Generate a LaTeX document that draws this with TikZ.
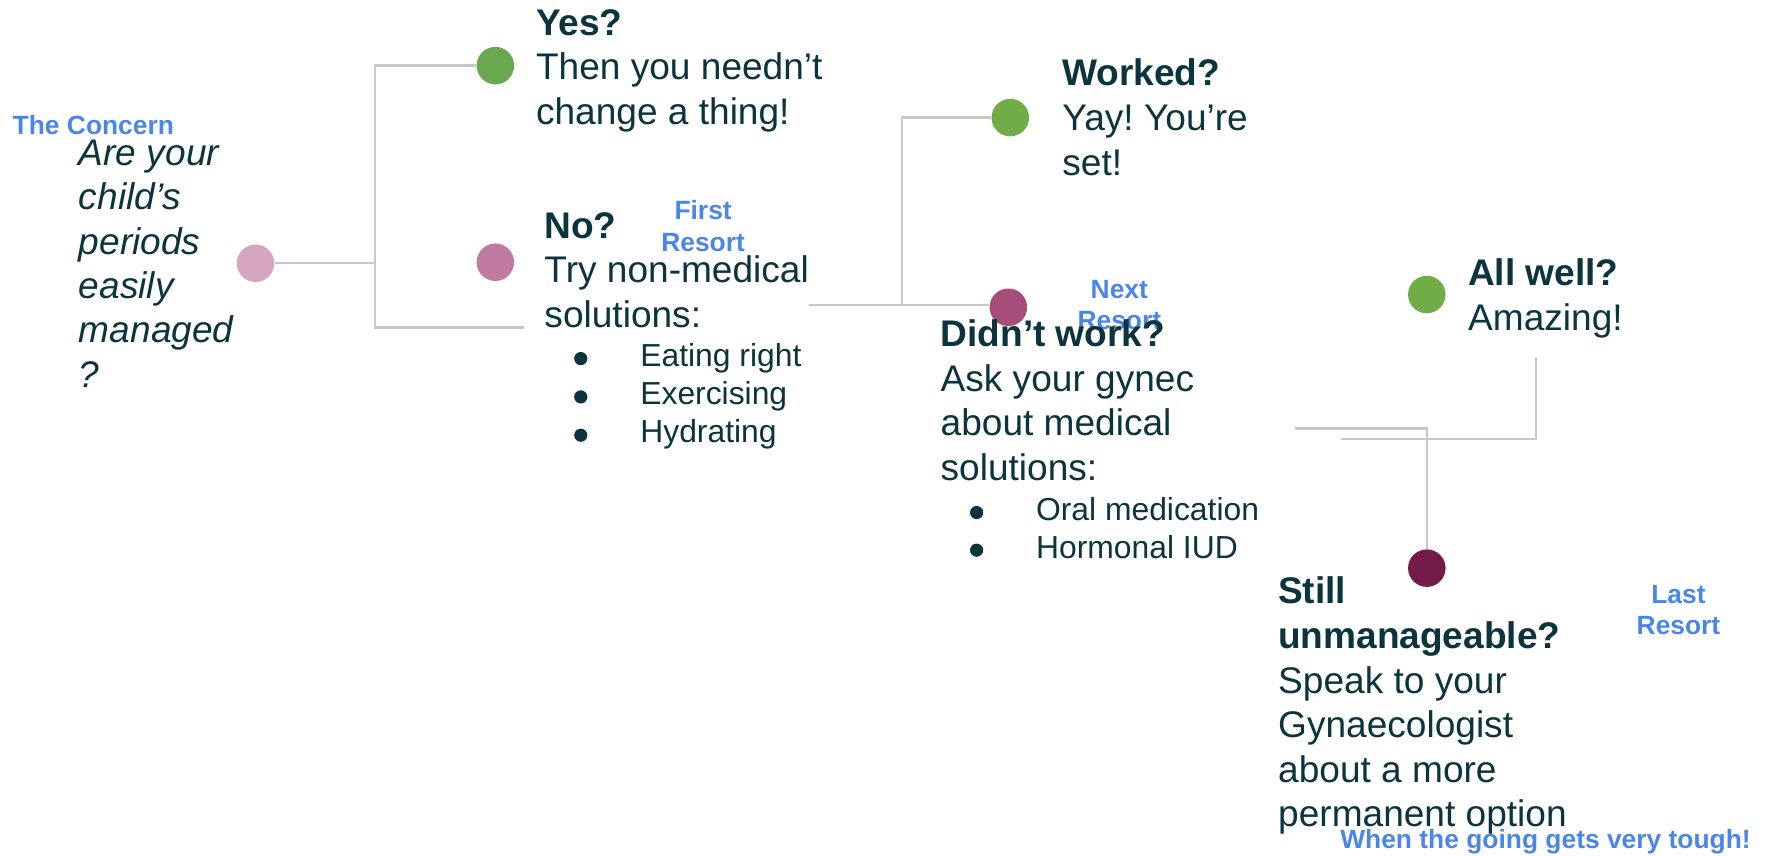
\documentclass[tikz,border=0pt]{standalone}
\usepackage{fontspec}
\setmainfont{Liberation Sans}
\frenchspacing
\definecolor{ink}{HTML}{0C343D}
\definecolor{tagblue}{HTML}{4A86E8}
\definecolor{linegray}{HTML}{C8C8C8}
\definecolor{pinkA}{HTML}{D5A6BD}
\definecolor{pinkB}{HTML}{C27BA0}
\definecolor{magC}{HTML}{A64D79}
\definecolor{magD}{HTML}{741B47}
\definecolor{greenA}{HTML}{6AA84F}
\definecolor{greenB}{HTML}{70AD47}
\newcommand\lstack[1]{\begin{tabular}[t]{@{}l@{}}#1\end{tabular}}
\newcommand\cstack[1]{\begin{tabular}[t]{@{}c@{}}#1\end{tabular}}
\tikzset{
  dot/.style={circle, minimum size=16.5pt, inner sep=0pt, draw=none},
  conn/.style={draw=linegray, line width=1pt},
  body/.style={font=\fontsize{16.3}{19.6}\selectfont, text=ink, inner sep=0pt, anchor=base west},
  small/.style={font=\fontsize{14}{16.75}\selectfont, text=ink, inner sep=0pt, anchor=base west},
  tag/.style={font=\fontsize{11.6}{13.8}\selectfont\bfseries, text=tagblue, inner sep=0pt},
  bul/.style={circle, fill=ink, minimum size=5.8pt, inner sep=0pt, draw=none}
}
\begin{document}
\begin{tikzpicture}[x=0.5pt, y=-0.5pt]
\useasboundingbox (0,0) rectangle (1560,751.9);

% labels in blue
\node[tag, anchor=base west] (concern) at (10.8,118.7) {The Concern};
\node[tag, anchor=base] (first) at (618.3,193.4) {\cstack{First\\Resort}};
\node[tag, anchor=base] (next) at (984.3,262.2) {\cstack{Next\\Resort}};
\node[tag, anchor=base] (last) at (1476,530.3) {\cstack{Last\\Resort}};
\node[tag, anchor=base west] (tough) at (1178.2,745.7) {When the going gets very tough!};

% question
\node[body, font=\fontsize{16.3}{19.55}\selectfont\itshape] (question) at (69,145.2)
  {\lstack{Are your\\child’s\\periods\\easily\\managed\\?}};

% circles
\node[dot, fill=pinkA] (p1) at (224.7,231.5) {};
\node[dot, fill=greenA] (g1) at (435.6,57.7) {};
\node[dot, fill=pinkB] (p2) at (435.6,230.6) {};
\node[dot, fill=greenB] (g2) at (888.4,103.4) {};
\node[dot, fill=magC] (m3) at (886.7,270.2) {};
\node[dot, fill=greenB] (g3) at (1254.7,259.0) {};
\node[dot, fill=magD] (m4) at (1254.7,499.6) {};

% answer texts
\node[body] (yes) at (471,30.8) {\lstack{\textbf{Yes?}\\Then you needn’t\\change a thing!}};
\node[body] (no) at (478.4,209.5) {\lstack{\textbf{No?}\\Try non-medical\\solutions:}};
\node[bul] (b11) at (510.7,315.3) {};
\node[bul] (b12) at (510.7,349.0) {};
\node[bul] (b13) at (510.7,382.7) {};
\node[small] (eat) at (562.7,322.3) {\lstack{Eating right\\Exercising\\Hydrating}};

\node[body] (worked) at (933.8,75.6) {\lstack{\textbf{Worked?}\\Yay! You’re\\set!}};
\node[body] (didnt) at (826.8,304.7) {\lstack{\textbf{Didn’t work?}\\Ask your gynec\\about medical\\solutions:}};
\node[bul] (b21) at (858.8,450.7) {};
\node[bul] (b22) at (858.8,483.8) {};
\node[small] (oral) at (910.7,457.7) {\lstack{Oral medication\\Hormonal IUD}};

\node[body] (allwell) at (1290.7,251.4) {\lstack{\textbf{All well?}\\Amazing!}};
\node[body] (still) at (1123.6,531) {\lstack{\textbf{Still}\\\textbf{unmanageable?}\\Speak to your\\Gynaecologist\\about a more\\permanent option}};

% connector junctions
\coordinate (j1) at (329.7,231.5);
\coordinate (e1) at (460.9,288);
\coordinate (s2) at (711.4,268.1);
\coordinate (j2) at (793.2,268.1);
\coordinate (s3) at (1138.6,376.8);
\coordinate (s4a) at (1350.9,315);
\coordinate (s4b) at (1178.8,386.2);

% connectors
\draw[conn] (p1) -- (j1);
\draw[conn] (g1) -| (j1) |- (e1);
\draw[conn] (s2) -- (j2) -- (j2 -| m3.west);
\draw[conn] (j2) |- (g2);
\draw[conn] (s3) -| (m4);
\draw[conn] (s4a) |- (s4b);
\end{tikzpicture}
\end{document}
